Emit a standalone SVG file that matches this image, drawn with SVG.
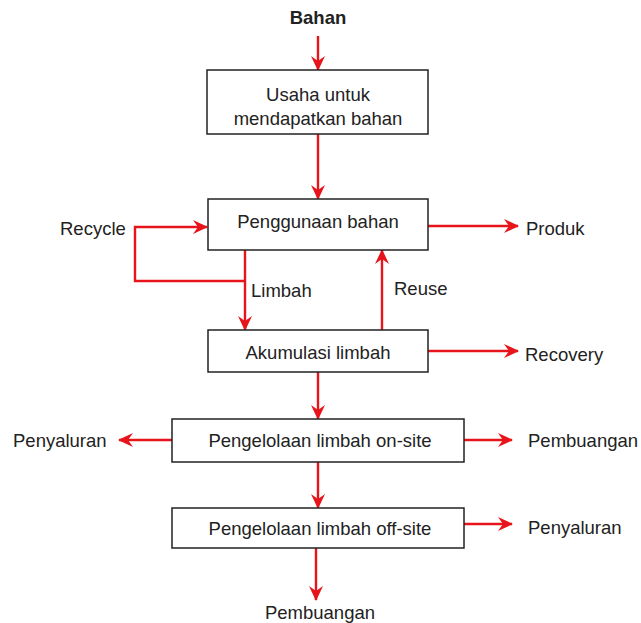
<svg xmlns="http://www.w3.org/2000/svg" width="641" height="623" viewBox="0 0 641 623">
<style>
.box{fill:#fff;stroke:#222;stroke-width:1.5}
.t{font-family:"Liberation Sans",Arial,sans-serif;font-size:18.5px;fill:#222}
.c{text-anchor:middle}
.e{fill:none;stroke:#e8141b;stroke-width:2.4}
</style>
<defs>
<marker id="ah" markerWidth="16" markerHeight="14" refX="14" refY="7" orient="auto" markerUnits="userSpaceOnUse">
<path d="M0,0 L15,7 L0,14 L5,7 Z" fill="#e8141b"/>
</marker>
</defs>
<rect width="641" height="623" fill="#fff"/>
<g id="connectors">
<line class="e" x1="318" y1="36" x2="318" y2="70" marker-end="url(#ah)"/>
<line class="e" x1="318" y1="134" x2="318" y2="199" marker-end="url(#ah)"/>
<polyline class="e" points="245,281 135,281 135,227 207,227" marker-end="url(#ah)"/>
<line class="e" x1="245" y1="248" x2="245" y2="330" marker-end="url(#ah)"/>
<line class="e" x1="382" y1="330" x2="382" y2="250" marker-end="url(#ah)"/>
<line class="e" x1="428" y1="226" x2="518" y2="226" marker-end="url(#ah)"/>
<line class="e" x1="428" y1="351" x2="518" y2="351" marker-end="url(#ah)"/>
<line class="e" x1="318" y1="372" x2="318" y2="419" marker-end="url(#ah)"/>
<line class="e" x1="172" y1="440" x2="119" y2="440" marker-end="url(#ah)"/>
<line class="e" x1="464" y1="440" x2="512" y2="440" marker-end="url(#ah)"/>
<line class="e" x1="318" y1="462" x2="318" y2="508" marker-end="url(#ah)"/>
<line class="e" x1="464" y1="524" x2="512" y2="524" marker-end="url(#ah)"/>
<line class="e" x1="316" y1="548" x2="316" y2="600" marker-end="url(#ah)"/>
</g>
<g id="bahan"><text class="t c" x="318" y="24" font-weight="bold">Bahan</text></g>
<g id="usaha">
<rect class="box" x="207" y="70" width="221" height="64"/>
<text class="t c" x="318" y="101">Usaha untuk</text>
<text class="t c" x="318" y="125">mendapatkan bahan</text>
</g>
<g id="penggunaan">
<rect class="box" x="208" y="199" width="220" height="51"/>
<text class="t c" x="318" y="228">Penggunaan bahan</text>
</g>
<g id="akumulasi">
<rect class="box" x="208" y="330" width="220" height="42"/>
<text class="t c" x="318" y="359">Akumulasi limbah</text>
</g>
<g id="onsite">
<rect class="box" x="172" y="419" width="292" height="43"/>
<text class="t c" x="320" y="447">Pengelolaan limbah on-site</text>
</g>
<g id="offsite">
<rect class="box" x="172" y="508" width="292" height="40"/>
<text class="t c" x="320" y="535">Pengelolaan limbah off-site</text>
</g>
<g id="labels">
<text class="t" x="60" y="235">Recycle</text>
<text class="t" x="526" y="235">Produk</text>
<text class="t" x="251" y="297">Limbah</text>
<text class="t" x="394" y="295">Reuse</text>
<text class="t" x="525" y="361">Recovery</text>
<text class="t" x="13" y="447">Penyaluran</text>
<text class="t" x="528" y="447">Pembuangan</text>
<text class="t" x="528" y="534">Penyaluran</text>
<text class="t c" x="320" y="619">Pembuangan</text>
</g>
</svg>
